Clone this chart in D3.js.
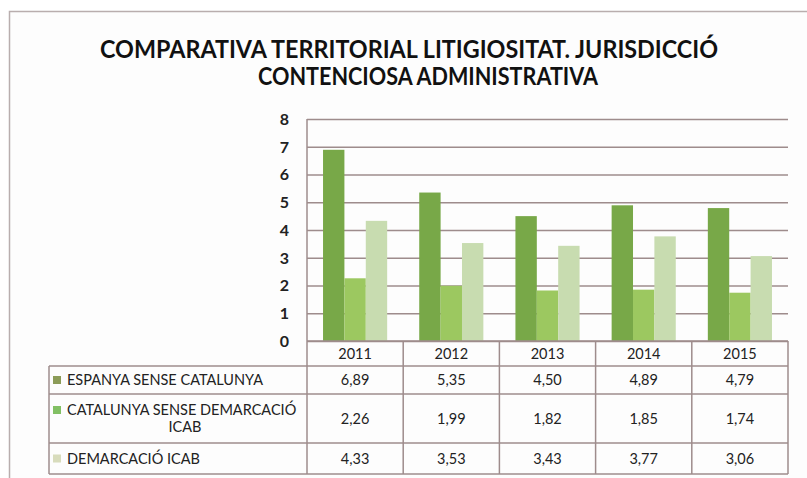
<!DOCTYPE html>
<html>
<head>
<meta charset="utf-8">
<script src="https://cdn.jsdelivr.net/npm/d3@7"></script>
<style>
  html, body { margin: 0; padding: 0; background: #fff; }
  svg { display: block; font-family: Lato, "Open Sans", sans-serif; }
</style>
</head>
<body>
<svg id="chart" width="807" height="478"></svg>
<script>
const years = ["2011", "2012", "2013", "2014", "2015"];
const seriesNames = ["ESPANYA SENSE CATALUNYA", "CATALUNYA SENSE DEMARCACIÓ ICAB", "DEMARCACIÓ ICAB"];
const espanya = [6.89, 5.35, 4.50, 4.89, 4.79];
const catalunya = [2.26, 1.99, 1.82, 1.85, 1.74];
const icab = [4.33, 3.53, 3.43, 3.77, 3.06];
const yTicks = [0, 1, 2, 3, 4, 5, 6, 7, 8];
const titleLines = ["COMPARATIVA TERRITORIAL LITIGIOSITAT. JURISDICCIÓ", "CONTENCIOSA ADMINISTRATIVA"];

const series = [
  { name: seriesNames[0], values: espanya, color: "#78a848", key: "#8c9c58" },
  { name: seriesNames[1], values: catalunya, color: "#9cc860", key: "#82c064" },
  { name: seriesNames[2], values: icab, color: "#c8dcb0", key: "#d8dcbc" }
];

const svg = d3.select("#chart");
const plot = { left: 307, right: 788, top: 119, bottom: 341 };
const gridColor = "#9e8c8c";
const textColor = "#222";

// outer frame
svg.append("rect")
  .attr("x", 9.5).attr("y", 11.5)
  .attr("width", 820).attr("height", 480)
  .attr("fill", "#fdfdfd").attr("stroke", "#b9aeae").attr("stroke-width", 1.5);

// title
svg.append("g").selectAll("text")
  .data(titleLines)
  .join("text")
  .attr("x", (d, i) => i === 0 ? 409 : 428)
  .attr("y", (d, i) => 58 + i * 27)
  .attr("text-anchor", "middle")
  .attr("font-size", 24)
  .attr("font-weight", "bold")
  .attr("fill", "#111")
  .attr("textLength", (d, i) => i === 0 ? 618 : 340)
  .attr("lengthAdjust", "spacingAndGlyphs")
  .text(d => d);

const x = d3.scaleBand().domain(years).range([plot.left, plot.right]);
const xs = d3.scaleBand().domain(seriesNames).range([0, x.bandwidth()]).paddingOuter(0.75);
const y = d3.scaleLinear().domain([0, 8]).range([plot.bottom, plot.top]);

// gridlines
svg.append("g")
  .attr("transform", `translate(${plot.left},0)`)
  .call(d3.axisLeft(y).tickValues(yTicks).tickSize(-(plot.right - plot.left)).tickFormat(""))
  .call(g => g.select(".domain").remove())
  .call(g => g.selectAll("line").attr("stroke", gridColor).attr("stroke-width", 1.5));

// y labels
svg.append("g").selectAll("text")
  .data(yTicks)
  .join("text")
  .attr("x", 289)
  .attr("y", d => y(d))
  .attr("dy", "0.36em")
  .attr("text-anchor", "end")
  .attr("font-size", 16)
  .attr("font-weight", "bold")
  .attr("fill", textColor)
  .text(d => d);

// bars
series.forEach(s => {
  svg.append("g").selectAll("rect")
    .data(s.values)
    .join("rect")
    .attr("x", (d, i) => x(years[i]) + xs(s.name))
    .attr("y", d => y(d))
    .attr("width", xs.bandwidth())
    .attr("height", d => y(0) - y(d))
    .attr("fill", s.color);
});

// plot left line
svg.append("line")
  .attr("x1", plot.left).attr("x2", plot.left)
  .attr("y1", plot.top).attr("y2", plot.bottom)
  .attr("stroke", gridColor).attr("stroke-width", 1.5);

// data table
const tableLeft = 49;
const rowEdges = [341, 366, 394, 443, 474];
const fmt = v => d3.format(".2f")(v).replace(".", ",");
const table = svg.append("g").attr("stroke", gridColor).attr("stroke-width", 1.5);

// horizontal lines
rowEdges.forEach((ry, i) => {
  table.append("line")
    .attr("x1", i === 0 ? plot.left : tableLeft).attr("x2", plot.right)
    .attr("y1", ry).attr("y2", ry);
});
// vertical lines
table.append("line").attr("x1", tableLeft).attr("x2", tableLeft).attr("y1", rowEdges[1]).attr("y2", rowEdges[4]);
years.concat(["end"]).forEach((yr, i) => {
  const vx = i < years.length ? x(yr) : plot.right;
  table.append("line").attr("x1", vx).attr("x2", vx).attr("y1", rowEdges[0]).attr("y2", rowEdges[4]);
});

// header years
svg.append("g").selectAll("text")
  .data(years)
  .join("text")
  .attr("x", d => x(d) + x.bandwidth() / 2)
  .attr("y", (rowEdges[0] + rowEdges[1]) / 2)
  .attr("dy", "0.36em")
  .attr("text-anchor", "middle")
  .attr("font-size", 14.5)
  .attr("fill", textColor)
  .text(d => d);

series.forEach((s, si) => {
  const cy = (rowEdges[si + 1] + rowEdges[si + 2]) / 2;
  const g = svg.append("g");
  g.selectAll("text.val")
    .data(s.values)
    .join("text")
    .attr("class", "val")
    .attr("x", (d, i) => x(years[i]) + x.bandwidth() / 2)
    .attr("y", cy)
    .attr("dy", "0.36em")
    .attr("text-anchor", "middle")
    .attr("font-size", 14.5)
    .attr("fill", textColor)
    .text(fmt);

  // legend key + label
  const lines = si === 1 ? ["CATALUNYA SENSE DEMARCACIÓ", "ICAB"] : [s.name];
  const firstY = cy - (lines.length - 1) * 8.5;
  g.append("rect")
    .attr("x", 53).attr("y", firstY - 4)
    .attr("width", 8).attr("height", 8)
    .attr("fill", s.key);
  g.selectAll("text.lab")
    .data(lines)
    .join("text")
    .attr("class", "lab")
    .attr("x", (d, i) => i === 0 ? 67 : 185)
    .attr("y", (d, i) => firstY + i * 17)
    .attr("dy", "0.36em")
    .attr("text-anchor", (d, i) => i === 0 ? "start" : "middle")
    .attr("font-size", 14.5)
    .attr("fill", textColor)
    .text(d => d);
});
</script>
</body>
</html>
